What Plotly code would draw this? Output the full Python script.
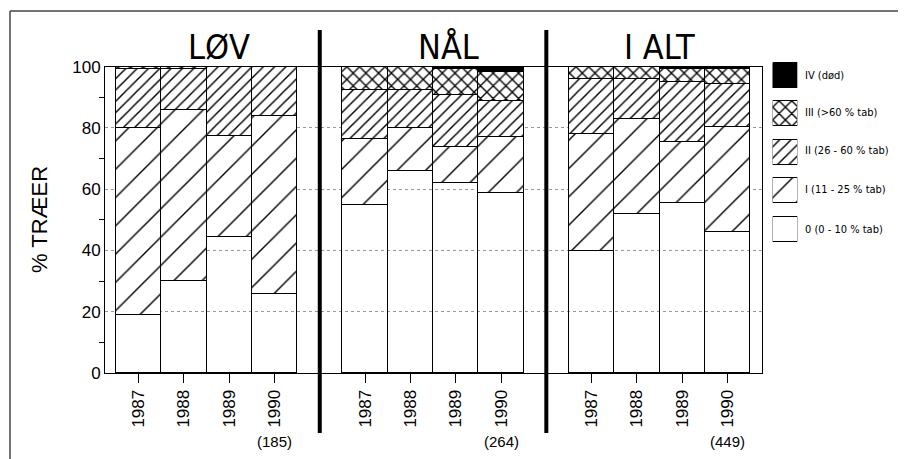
import plotly.graph_objects as go

groups = ["LØV", "NÅL", "I ALT"]
years = ["1987", "1988", "1989", "1990"]
counts = ["(185)", "(264)", "(449)"]
categories = ["0 (0 - 10 % tab)", "I (11 - 25 % tab)", "II (26 - 60 % tab)",
              "III (>60 % tab)", "IV (død)"]

# values per class, ordered LØV 1987-1990, NÅL 1987-1990, I ALT 1987-1990
cls0 = [19, 30, 44.5, 26, 55, 66, 62, 59, 40, 52, 55.5, 46]
cls1 = [61, 56, 33, 58, 21.5, 14, 12, 18, 38, 31, 20, 34.5]
cls2 = [19.5, 13.5, 22.5, 16, 16, 12.5, 17, 12, 18, 13, 19.5, 14]
cls3 = [0.5, 0.5, 0, 0, 7.5, 7.5, 8.5, 9.5, 4, 4, 4.5, 5]
cls4 = [0, 0, 0, 0, 0, 0, 0.5, 1.5, 0, 0, 0.5, 0.5]
series = [cls0, cls1, cls2, cls3, cls4]

# x positions: groups separated by one empty slot
xpos = [g * 5 + i for g in range(3) for i in range(4)]
ticktext = years * 3

W, H = 906, 459
OFF = 8  # page offset of the figure
PL, PR, PT, PB = 105, 800, 55, 373  # plot region in screen pixels
L, R, T, B = PL - OFF, W - (PR - OFF), PT - OFF, H - (PB - OFF)
PW, PH = PR - PL, PB - PT


def px(x):
    return (x - PL) / PW


def py(y):
    return (PB - y) / PH


styles = [
    dict(color="rgba(0,0,0,0)"),
    dict(color="white", pattern=dict(shape="/", size=20, solidity=0.07,
                                     fgcolor="black", bgcolor="white", fillmode="replace")),
    dict(color="white", pattern=dict(shape="/", size=8, solidity=0.18,
                                     fgcolor="black", bgcolor="white", fillmode="replace")),
    dict(color="white", pattern=dict(shape="x", size=9, solidity=0.28,
                                     fgcolor="black", bgcolor="white", fillmode="replace")),
    dict(color="black"),
]

fig = go.Figure()
for vals, st, name in zip(series, styles, categories):
    fig.add_trace(go.Bar(
        x=xpos, y=vals, width=1.0, name=name, showlegend=False,
        marker=dict(line=dict(color="black", width=1), **st),
        xaxis="x", yaxis="y",
    ))

# legend swatches on a small side axis
for i, (st, name) in enumerate(zip(styles, categories)):
    m = dict(st)
    if i == 0:
        m = dict(color="white")
    fig.add_trace(go.Bar(
        x=[1], y=[i], base=0, width=0.66, orientation="h", showlegend=False,
        marker=dict(line=dict(color="black", width=1), **m),
        xaxis="x2", yaxis="y2",
    ))

main_top = py(66.7)
fig.update_layout(
    width=W, height=H,
    margin=dict(l=L, r=R, t=T, b=B),
    paper_bgcolor="white", plot_bgcolor="white",
    barmode="stack", bargap=0,
    font=dict(family="Liberation Sans, Arial, sans-serif", color="black"),
    xaxis=dict(
        domain=[0, px(762)], range=[-0.74, 13.76],
        tickvals=xpos, ticktext=ticktext, tickangle=-90,
        ticks="outside", ticklen=9, tickcolor="black",
        tickfont=dict(size=17, color="black"),
        showline=True, linecolor="black", linewidth=1, mirror=True,
        showgrid=False, zeroline=False,
    ),
    yaxis=dict(
        domain=[0, main_top], range=[0, 100],
        tickvals=[0, 20, 40, 60, 80, 100], ticks="",
        tickfont=dict(size=17, color="black"),
        showline=True, linecolor="black", linewidth=1, mirror=True,
        showgrid=True, gridcolor="#999", griddash="dot", gridwidth=1,
        zeroline=False,
        minor=dict(tickvals=[10, 30, 50, 70, 90], ticks="outside", ticklen=5,
                   tickcolor="black", showgrid=False),
    ),
    xaxis2=dict(domain=[px(772.7), px(797.3)], range=[0, 1], visible=False,
                anchor="y2"),
    yaxis2=dict(domain=[py(248.75), py(56.25)], range=[-0.5, 4.5],
                visible=False, anchor="x2"),
)

# group titles
for name, cx in zip(groups, [219, 448, 659]):
    fig.add_annotation(x=px(cx), y=py(47), xref="paper", yref="paper",
                       text=name, showarrow=False, xanchor="center", yanchor="middle",
                       font=dict(size=34, family="Liberation Sans Narrow, DejaVu Sans Condensed, Arial"))

# sample counts under 1990
for c, g in zip(counts, range(3)):
    fig.add_annotation(x=g * 5 + 3, y=py(441), xref="x", yref="paper",
                       text=c, showarrow=False, xanchor="center", yanchor="middle",
                       font=dict(size=15))

# legend labels
leg_centers = [229.5, 189, 150.5, 112.5, 75.5]
for name, cy in zip(categories, leg_centers):
    fig.add_annotation(x=px(803), y=py(cy), xref="paper", yref="paper",
                       text=name, showarrow=False, xanchor="left", yanchor="middle",
                       font=dict(size=11, family="Liberation Sans Narrow, DejaVu Sans Condensed, Arial"))

# y axis title
fig.add_annotation(x=px(39), y=py(220), xref="paper", yref="paper",
                   text="% TRÆER", textangle=-90, showarrow=False,
                   xanchor="center", yanchor="middle", font=dict(size=22))

# thick group separators
for xs in [4, 9]:
    fig.add_shape(type="line", xref="x", yref="paper", x0=xs, x1=xs,
                  y0=py(433), y1=py(30), line=dict(color="black", width=4))

# outer frame (left and top edges)
fig.add_shape(type="line", xref="paper", yref="paper", x0=px(10), x1=px(10),
              y0=py(11), y1=py(470), line=dict(color="#444", width=1.5))
fig.add_shape(type="line", xref="paper", yref="paper", x0=px(10), x1=px(910),
              y0=py(11), y1=py(11), line=dict(color="#444", width=1.5))

fig.write_html("out.html")
